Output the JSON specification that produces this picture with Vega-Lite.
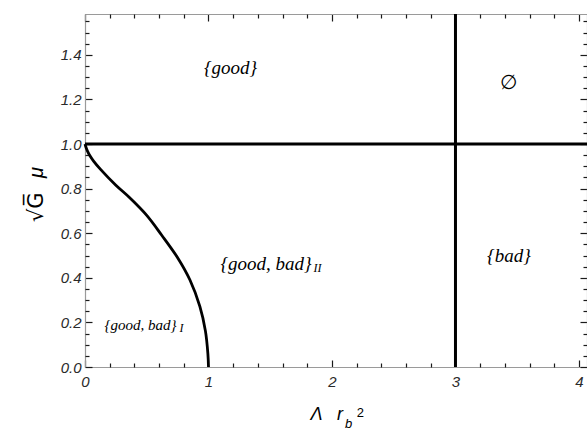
{
  "$schema": "https://vega.github.io/schema/vega-lite/v6.json",
  "width": 502,
  "height": 353,
  "autosize": "none",
  "padding": {"left": 85, "top": 14, "right": 0, "bottom": 65},
  "background": "white",
  "config": {
    "view": {"stroke": null},
    "axis": {
      "grid": false,
      "title": null,
      "domainColor": "#9a9a9a",
      "domainWidth": 1.2,
      "tickColor": "#1a1a1a",
      "tickWidth": 1.2,
      "labelFont": "Liberation Sans",
      "labelFontStyle": "italic",
      "labelFontSize": 15,
      "labelColor": "#2a2a2a",
      "labelFlush": false
    }
  },
  "datasets": {
    "boundary": [
      {"lam": 0.0, "mu": 1.0},
      {"lam": 0.01, "mu": 0.982},
      {"lam": 0.022, "mu": 0.966},
      {"lam": 0.04, "mu": 0.947},
      {"lam": 0.071, "mu": 0.922},
      {"lam": 0.126, "mu": 0.886},
      {"lam": 0.25, "mu": 0.815},
      {"lam": 0.36, "mu": 0.76},
      {"lam": 0.5, "mu": 0.68},
      {"lam": 0.62, "mu": 0.592},
      {"lam": 0.75, "mu": 0.49},
      {"lam": 0.85, "mu": 0.39},
      {"lam": 0.93, "mu": 0.272},
      {"lam": 0.975, "mu": 0.162},
      {"lam": 0.995, "mu": 0.06},
      {"lam": 1.0, "mu": 0.0}
    ],
    "regions": [
      {"lam": 1.178, "mu": 1.341, "label": "{good}"},
      {"lam": 1.466, "mu": 0.463, "label": "{good, bad}"},
      {"lam": 3.433, "mu": 0.496, "label": "{bad}"}
    ],
    "regionSmall": [
      {"lam": 0.449, "mu": 0.188, "label": "{good, bad}"}
    ],
    "subscripts": [
      {"lam": 1.85, "mu": 0.442, "label": "II"},
      {"lam": 0.765, "mu": 0.174, "label": "I"}
    ],
    "empty": [
      {"lam": 3.43, "mu": 1.273, "label": "∅"}
    ],
    "xTitleMain": [
      {"lam": 1.826, "mu": -0.238, "label": "Λ"},
      {"lam": 2.04, "mu": -0.238, "label": "r"}
    ],
    "xTitleSub": [
      {"lam": 2.105, "mu": -0.272, "label": "b"}
    ],
    "xTitleSup": [
      {"lam": 2.2, "mu": -0.224, "label": "2"}
    ],
    "yTitleRoot": [
      {"lam": -0.344, "mu": 0.65, "label": "√G̅"}
    ],
    "yTitleMu": [
      {"lam": -0.344, "mu": 0.848, "label": "μ"}
    ]
  },
  "layer": [
    {
      "data": {"values": [{"mu": 1.0}]},
      "mark": {"type": "rule", "color": "black", "strokeWidth": 3},
      "encoding": {
        "y": {"field": "mu", "type": "quantitative", "scale": {"domain": [0, 1.583], "nice": false, "zero": false}, "axis": null}
      }
    },
    {
      "data": {"values": [{"lam": 3.0}]},
      "mark": {"type": "rule", "color": "black", "strokeWidth": 3},
      "encoding": {
        "x": {"field": "lam", "type": "quantitative", "scale": {"domain": [0, 4.065], "nice": false, "zero": false}, "axis": null}
      }
    },
    {
      "data": {"name": "boundary"},
      "mark": {"type": "line", "color": "black", "strokeWidth": 2.8, "interpolate": "catmull-rom"},
      "encoding": {
        "x": {"field": "lam", "type": "quantitative", "scale": {"domain": [0, 4.065], "nice": false, "zero": false},
              "axis": {"orient": "bottom", "values": [0, 1, 2, 3, 4], "format": "d", "tickSize": -7, "labelPadding": 14}},
        "y": {"field": "mu", "type": "quantitative", "scale": {"domain": [0, 1.583], "nice": false, "zero": false},
              "axis": {"orient": "left", "values": [0, 0.2, 0.4, 0.6, 0.8, 1.0, 1.2, 1.4], "format": ".1f", "tickSize": -7, "labelPadding": 11}}
      }
    },
    {
      "data": {"name": "regions"},
      "mark": {"type": "text", "font": "Liberation Serif", "fontStyle": "italic", "fontSize": 19, "align": "center", "baseline": "middle", "color": "black"},
      "encoding": {
        "x": {"field": "lam", "type": "quantitative", "scale": {"domain": [0, 4.065], "nice": false, "zero": false},
              "axis": {"orient": "bottom", "values": [0.2, 0.4, 0.6, 0.8, 1.2, 1.4, 1.6, 1.8, 2.2, 2.4, 2.6, 2.8, 3.2, 3.4, 3.6, 3.8], "labels": false, "domain": false, "tickSize": -4}},
        "y": {"field": "mu", "type": "quantitative", "scale": {"domain": [0, 1.583], "nice": false, "zero": false},
              "axis": {"orient": "left", "values": [0.05, 0.1, 0.15, 0.25, 0.3, 0.35, 0.45, 0.5, 0.55, 0.65, 0.7, 0.75, 0.85, 0.9, 0.95, 1.05, 1.1, 1.15, 1.25, 1.3, 1.35, 1.45, 1.5, 1.55], "labels": false, "domain": false, "tickSize": -4}},
        "text": {"field": "label"}
      }
    },
    {
      "data": {"name": "regionSmall"},
      "mark": {"type": "text", "font": "Liberation Serif", "fontStyle": "italic", "fontSize": 15, "align": "center", "baseline": "middle", "color": "black"},
      "encoding": {
        "x": {"field": "lam", "type": "quantitative", "scale": {"domain": [0, 4.065], "nice": false, "zero": false},
              "axis": {"orient": "top", "values": [0, 1, 2, 3, 4], "labels": false, "tickSize": -7}},
        "y": {"field": "mu", "type": "quantitative", "scale": {"domain": [0, 1.583], "nice": false, "zero": false},
              "axis": {"orient": "right", "values": [0, 0.2, 0.4, 0.6, 0.8, 1.0, 1.2, 1.4], "labels": false, "tickSize": -7}},
        "text": {"field": "label"}
      }
    },
    {
      "data": {"name": "subscripts"},
      "mark": {"type": "text", "font": "Liberation Serif", "fontStyle": "italic", "fontSize": 12, "align": "left", "baseline": "middle", "color": "black"},
      "encoding": {
        "x": {"field": "lam", "type": "quantitative", "scale": {"domain": [0, 4.065], "nice": false, "zero": false},
              "axis": {"orient": "top", "values": [0.2, 0.4, 0.6, 0.8, 1.2, 1.4, 1.6, 1.8, 2.2, 2.4, 2.6, 2.8, 3.2, 3.4, 3.6, 3.8], "labels": false, "domain": false, "tickSize": -4}},
        "y": {"field": "mu", "type": "quantitative", "scale": {"domain": [0, 1.583], "nice": false, "zero": false},
              "axis": {"orient": "right", "values": [0.05, 0.1, 0.15, 0.25, 0.3, 0.35, 0.45, 0.5, 0.55, 0.65, 0.7, 0.75, 0.85, 0.9, 0.95, 1.05, 1.1, 1.15, 1.25, 1.3, 1.35, 1.45, 1.5, 1.55], "labels": false, "domain": false, "tickSize": -4}},
        "text": {"field": "label"}
      }
    },
    {
      "data": {"name": "empty"},
      "mark": {"type": "text", "font": "DejaVu Sans", "fontSize": 20, "align": "center", "baseline": "middle", "color": "black"},
      "encoding": {
        "x": {"field": "lam", "type": "quantitative", "scale": {"domain": [0, 4.065], "nice": false, "zero": false}, "axis": null},
        "y": {"field": "mu", "type": "quantitative", "scale": {"domain": [0, 1.583], "nice": false, "zero": false}, "axis": null},
        "text": {"field": "label"}
      }
    },
    {
      "data": {"name": "xTitleMain"},
      "mark": {"type": "text", "font": "Liberation Sans", "fontStyle": "italic", "fontSize": 18, "align": "left", "baseline": "alphabetic", "color": "black"},
      "encoding": {
        "x": {"field": "lam", "type": "quantitative", "scale": {"domain": [0, 4.065], "nice": false, "zero": false}, "axis": null},
        "y": {"field": "mu", "type": "quantitative", "scale": {"domain": [0, 1.583], "nice": false, "zero": false}, "axis": null},
        "text": {"field": "label"}
      }
    },
    {
      "data": {"name": "xTitleSub"},
      "mark": {"type": "text", "font": "Liberation Sans", "fontStyle": "italic", "fontSize": 13, "align": "left", "baseline": "alphabetic", "color": "black"},
      "encoding": {
        "x": {"field": "lam", "type": "quantitative", "scale": {"domain": [0, 4.065], "nice": false, "zero": false}, "axis": null},
        "y": {"field": "mu", "type": "quantitative", "scale": {"domain": [0, 1.583], "nice": false, "zero": false}, "axis": null},
        "text": {"field": "label"}
      }
    },
    {
      "data": {"name": "xTitleSup"},
      "mark": {"type": "text", "font": "Liberation Sans", "fontSize": 13, "align": "left", "baseline": "alphabetic", "color": "black"},
      "encoding": {
        "x": {"field": "lam", "type": "quantitative", "scale": {"domain": [0, 4.065], "nice": false, "zero": false}, "axis": null},
        "y": {"field": "mu", "type": "quantitative", "scale": {"domain": [0, 1.583], "nice": false, "zero": false}, "axis": null},
        "text": {"field": "label"}
      }
    },
    {
      "data": {"name": "yTitleRoot"},
      "mark": {"type": "text", "font": "DejaVu Sans", "fontSize": 21, "angle": 270, "align": "left", "baseline": "alphabetic", "color": "black"},
      "encoding": {
        "x": {"field": "lam", "type": "quantitative", "scale": {"domain": [0, 4.065], "nice": false, "zero": false}, "axis": null},
        "y": {"field": "mu", "type": "quantitative", "scale": {"domain": [0, 1.583], "nice": false, "zero": false}, "axis": null},
        "text": {"field": "label"}
      }
    },
    {
      "data": {"name": "yTitleMu"},
      "mark": {"type": "text", "font": "Liberation Sans", "fontStyle": "italic", "fontSize": 20, "angle": 270, "align": "left", "baseline": "alphabetic", "color": "black"},
      "encoding": {
        "x": {"field": "lam", "type": "quantitative", "scale": {"domain": [0, 4.065], "nice": false, "zero": false}, "axis": null},
        "y": {"field": "mu", "type": "quantitative", "scale": {"domain": [0, 1.583], "nice": false, "zero": false}, "axis": null},
        "text": {"field": "label"}
      }
    }
  ],
  "resolve": {"axis": {"x": "independent", "y": "independent"}}
}
